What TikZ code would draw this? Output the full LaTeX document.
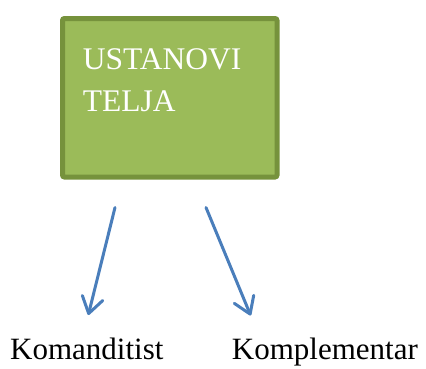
\documentclass[tikz,border=0pt]{standalone}
\usepackage{fontspec}
\setmainfont{Liberation Serif}
\usetikzlibrary{arrows.meta}
\definecolor{boxfill}{HTML}{9BBB59}
\definecolor{boxline}{HTML}{76923C}
\definecolor{arrowblue}{HTML}{4A7EBB}
\tikzset{
  x=1pt, y=-1pt,
  greenbox/.style={draw=boxline, fill=boxfill, line width=5pt, rounded corners=2pt},
  boxtext/.style={anchor=base west, inner sep=0pt, text=white, font=\fontsize{31.5}{38}\selectfont},
  label/.style={anchor=base west, inner sep=0pt, text=black, font=\fontsize{31}{37}\selectfont},
  link/.style={draw=arrowblue, line width=3pt, line cap=round, line join=round,
    -{Straight Barb[length=16pt, width=21pt, line width=3pt, round]}}
}
\begin{document}
\begin{tikzpicture}
\useasboundingbox (0,0) rectangle (426,368);
\node[greenbox, minimum width=214.5pt, minimum height=158.5pt, anchor=north west, inner sep=0pt] (box) at (60,16) {};
\node[boxtext] (t1) at (82.7,69.3) {USTANOVI};
\node[boxtext] (t2) at (82.7,111.7) {TELJA};
\coordinate (s1) at (115,207.5);
\coordinate (e1) at (88.3,315);
\coordinate (s2) at (206,207.5);
\coordinate (e2) at (250.7,315.5);
\draw[link] (s1) -- (e1);
\draw[link] (s2) -- (e2);
\node[label] (k1) at (10,359.5) {Komanditist};
\node[label] (k2) at (231.7,359.5) {Komplementar};
\end{tikzpicture}
\end{document}
